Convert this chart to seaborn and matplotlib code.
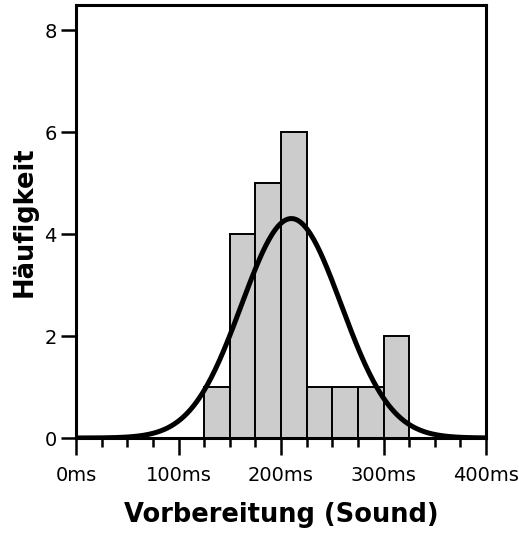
import numpy as np
import pandas as pd
import matplotlib
matplotlib.use("Agg")
import matplotlib.pyplot as plt
import seaborn as sns
from matplotlib.ticker import MultipleLocator, FuncFormatter

# Histogram data (ms bins, counts)
bin_left = [125, 150, 175, 200, 225, 250, 275, 300]
counts = [1, 4, 5, 6, 1, 1, 1, 2]
bin_width = 25
x_ticks = [0, 100, 200, 300, 400]
y_ticks = [0, 2, 4, 6, 8]

sns.set_theme(style="white")
plt.rcParams['font.family'] = ['DejaVu Sans']

centers = np.array(bin_left) + bin_width / 2
w = np.array(counts, dtype=float)
df = pd.DataFrame({"x": centers, "w": w})

# Normal fit derived from the histogram data
n = w.sum()
mu = (centers * w).sum() / n
sd = np.sqrt(((centers - mu) ** 2 * w).sum() / (n - 1))
xs = np.linspace(0, 400, 401)
ys = n * bin_width / (sd * np.sqrt(2 * np.pi)) * np.exp(-0.5 * ((xs - mu) / sd) ** 2)
curve = pd.DataFrame({"x": xs, "y": ys})

fig = plt.figure(figsize=(5.19, 5.33), dpi=100)
ax = fig.add_axes([76 / 519, 1 - 438 / 533, 410 / 519, 433.5 / 533])

sns.histplot(data=df, x="x", weights="w", binwidth=bin_width,
             binrange=(bin_left[0], bin_left[-1] + bin_width),
             color="#cccccc", edgecolor="black", linewidth=1.4, alpha=1, ax=ax)
sns.lineplot(data=curve, x="x", y="y", color="black", linewidth=3.6, ax=ax)

ax.set_xlim(0, 400)
ax.set_ylim(0, 8.5)
ax.set_xticks(x_ticks)
ax.xaxis.set_major_formatter(FuncFormatter(lambda v, p: f"{int(v)}ms"))
ax.xaxis.set_minor_locator(MultipleLocator(25))
ax.set_yticks(y_ticks)

for s in ax.spines.values():
    s.set_linewidth(2.2)
    s.set_color("black")

ax.tick_params(axis="x", which="major", direction="out", length=12, width=1.8,
               labelsize=14, pad=8.5, colors="black", bottom=True)
ax.tick_params(axis="x", which="minor", direction="out", length=6.5, width=1.8,
               colors="black", bottom=True)
ax.tick_params(axis="y", which="major", direction="out", length=11, width=1.8,
               labelsize=14, pad=3, colors="black", left=True)

ax.set_xlabel("Vorbereitung (Sound)", fontsize=18.5, fontweight="bold",
              labelpad=12, color="black")
ax.set_ylabel("Häufigkeit", fontsize=18.5, fontweight="bold", labelpad=5,
              color="black")

fig.savefig("out.png", dpi=100)
